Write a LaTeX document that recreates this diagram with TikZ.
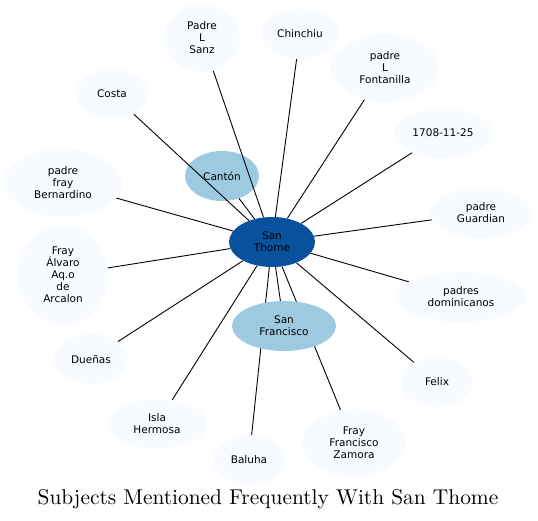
\documentclass[tikz,border=0pt]{standalone}
\usepackage{fontspec}
\newfontfamily\labelfont{DejaVu Sans}
\newfontfamily\titlefont{lmroman10-regular.otf}
\usetikzlibrary{shapes.geometric}
\definecolor{pale}{HTML}{F7FBFF}
\definecolor{midblue}{HTML}{9ECAE1}
\definecolor{darkblue}{HTML}{08519C}
\pgfdeclarelayer{bg}
\pgfdeclarelayer{edges}
\pgfsetlayers{bg,edges,main}

\begin{document}
\begin{tikzpicture}[x=1pt, y=-1pt,
    subj/.style={ellipse, fill=#1, inner sep=0pt, align=center,
        font=\labelfont\fontsize{10.5}{12}\selectfont},
    subj/.default=pale,
    link/.style={line width=0.9pt}]
    \useasboundingbox (0,0) rectangle (538,521);

    \node[subj=darkblue, minimum width=86pt, minimum height=50pt] (thome) at (272,242) {San\\Thome};
    \begin{pgfonlayer}{bg}
    \node[subj=midblue, minimum width=74pt, minimum height=50pt] (canton) at (222,176) {Cantón};
    \end{pgfonlayer}
    \node[subj=midblue, minimum width=104pt, minimum height=50pt] (francisco) at (284,326) {San\\Francisco};

    \node[subj, minimum width=76pt, minimum height=68pt] (sanz) at (202,38) {Padre\\L\\Sanz};
    \node[subj, minimum width=78pt, minimum height=50pt] (chinchiu) at (300,34) {Chinchiu};
    \node[subj, minimum width=108pt, minimum height=68pt] (fontanilla) at (385,68) {padre\\L\\Fontanilla};
    \node[subj, minimum width=98pt, minimum height=50pt] (date) at (443,133) {1708-11-25};
    \node[subj, minimum width=102pt, minimum height=50pt] (guardian) at (481,213) {padre\\Guardian};
    \node[subj, minimum width=130pt, minimum height=50pt] (dominicanos) at (461,297) {padres\\dominicanos};
    \node[subj, minimum width=72pt, minimum height=50pt] (felix) at (437,382) {Felix};
    \node[subj, minimum width=104pt, minimum height=68pt] (zamora) at (354,443) {Fray\\Francisco\\Zamora};
    \node[subj, minimum width=72pt, minimum height=50pt] (baluha) at (249,460) {Baluha};
    \node[subj, minimum width=100pt, minimum height=50pt] (isla) at (157,424) {Isla\\Hermosa};
    \node[subj, minimum width=74pt, minimum height=50pt] (duenas) at (91,359) {Dueñas};
    \node[subj, minimum width=90pt, minimum height=100pt] (alvaro) at (63,275) {Fray\\Álvaro\\Aq.o\\de\\Arcalon};
    \node[subj, minimum width=118pt, minimum height=68pt] (bernardino) at (63,183) {padre\\fray\\Bernardino};
    \node[subj, minimum width=72pt, minimum height=50pt] (costa) at (112,94) {Costa};

    % edges under the nodes, over Cantón
    \begin{pgfonlayer}{edges}
    \foreach \n in {canton,francisco,sanz,chinchiu,fontanilla,date,guardian,dominicanos,
        felix,zamora,baluha,isla,duenas,alvaro,bernardino,costa}
        \draw[link] (thome) -- (\n);
    \end{pgfonlayer}

    \node (title) at (268,499) {\titlefont\fontsize{21.4}{25}\selectfont Subjects Mentioned Frequently With San Thome};
\end{tikzpicture}
\end{document}
